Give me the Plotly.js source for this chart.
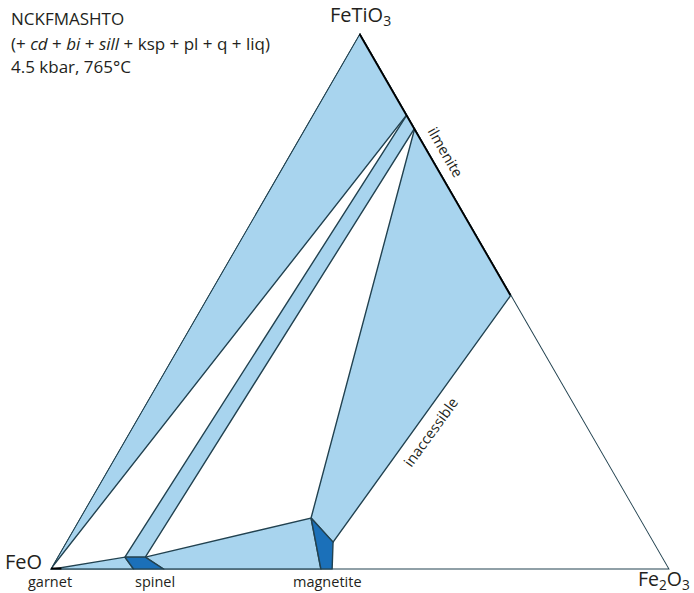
<!DOCTYPE html>
<html><head><meta charset="utf-8">
<script src="https://cdn.plot.ly/plotly-3.0.1.min.js"></script>
<style>html,body{margin:0;padding:0;background:#fff}</style>
</head><body>
<div id="chart" style="width:694px;height:593px"></div>
<script>
// Compositions as [FeTiO3 (a), FeO (b), Fe2O3 (c)] fractions
const vertexNames = ['FeTiO<sub>3</sub>', 'FeO', 'Fe<sub>2</sub>O<sub>3</sub>'];
const phaseNames = ['garnet', 'spinel', 'magnetite', 'ilmenite', 'inaccessible'];
const titleLines = ['NCKFMASHTO', '(+ <i>cd</i> + <i>bi</i> + <i>sill</i> + ksp + pl + q + liq)', '4.5 kbar, 765°C'];

const garnetIlmenite    = [[0,1,0],[1,0,0],[0.848,0,0.152]];
const spinelIlmenite    = [[0.023,0.868,0.109],[0.848,0,0.152],[0.823,0,0.177],[0.023,0.835,0.142]];
const magnetiteIlmenite = [[0.096,0.531,0.373],[0.823,0,0.177],[0.512,0,0.488],[0.051,0.518,0.431]];
const garnetSpinel      = [[0,1,0],[0.023,0.868,0.109],[0,0.865,0.135]];
const spinelMagnetite   = [[0.023,0.835,0.142],[0.096,0.531,0.373],[0,0.563,0.437],[0,0.816,0.184]];
const spinelField       = [[0.023,0.868,0.109],[0.023,0.835,0.142],[0,0.816,0.184],[0,0.865,0.135]];
const magnetiteField    = [[0.096,0.531,0.373],[0.051,0.518,0.431],[0,0.545,0.455],[0,0.563,0.437]];
const ilmeniteSolution  = [[1,0,0],[0.512,0,0.488]];
const garnetPhase       = [[0,1,0],[0,0.982,0.018]];
const outline           = [[1,0,0],[0,1,0],[0,0,1],[1,0,0]];

const LIGHT = 'rgb(168,212,238)';
const DARK = 'rgb(27,112,185)';
const EDGE = 'rgb(34,66,80)';
const TXT = '#231f20';

function tr(pts, opts) {
  return Object.assign({
    type: 'scatterternary', mode: 'lines',
    a: pts.map(p => p[0]), b: pts.map(p => p[1]), c: pts.map(p => p[2]),
    hoverinfo: 'skip', showlegend: false, cliponaxis: false
  }, opts);
}
function poly(pts, color) {
  const closed = pts.concat([pts[0]]);
  return tr(closed, {fill: 'toself', fillcolor: color, line: {color: EDGE, width: 1.4}});
}

const data = [
  poly(garnetIlmenite, LIGHT),
  poly(spinelIlmenite, LIGHT),
  poly(magnetiteIlmenite, LIGHT),
  poly(garnetSpinel, LIGHT),
  poly(spinelMagnetite, LIGHT),
  poly(spinelField, DARK),
  poly(magnetiteField, DARK),
  tr(outline, {line: {color: EDGE, width: 1.8}}),
  tr(ilmeniteSolution, {line: {color: '#000', width: 3.6}}),
  tr(garnetPhase, {line: {color: '#000', width: 4}})
];

const W = 694, H = 593;
const px = x => x / W, py = y => 1 - y / H;
function ann(text, x, y, size, opts) {
  return Object.assign({text: text, x: px(x), y: py(y), xref: 'paper', yref: 'paper',
    showarrow: false, font: {family: 'Open Sans', size: size, color: TXT},
    xanchor: 'center', yanchor: 'middle'}, opts || {});
}

const hiddenAxis = {showgrid: false, showline: false, showticklabels: false, ticks: '', title: {text: ''}};
const layout = {
  width: W, height: H,
  margin: {l: 0, r: 0, t: 0, b: 0},
  paper_bgcolor: '#fff',
  ternary: {
    domain: {x: [50/W, 670/W], y: [(H-569.5)/H, (H-33)/H]},
    sum: 1, bgcolor: 'rgba(0,0,0,0)',
    aaxis: hiddenAxis, baxis: hiddenAxis, caxis: hiddenAxis
  },
  annotations: [
    ann(titleLines[0], 9, 19, 17, {xanchor: 'left'}),
    ann(titleLines[1], 9, 43, 17, {xanchor: 'left'}),
    ann(titleLines[2], 9, 66, 17, {xanchor: 'left'}),
    ann(vertexNames[0], 360, 15, 20),
    ann(vertexNames[1], 3, 561, 20, {xanchor: 'left'}),
    ann(vertexNames[2], 664, 579, 19.5),
    ann(phaseNames[0], 50, 581, 14.5),
    ann(phaseNames[1], 155, 581, 14.5),
    ann(phaseNames[2], 327, 581, 14.5),
    ann(phaseNames[3], 445, 152, 14.5, {textangle: 60}),
    ann(phaseNames[4], 430, 432, 14.5, {textangle: -54})
  ]
};

Plotly.newPlot('chart', data, layout, {displayModeBar: false, staticPlot: true});
</script>
</body></html>
